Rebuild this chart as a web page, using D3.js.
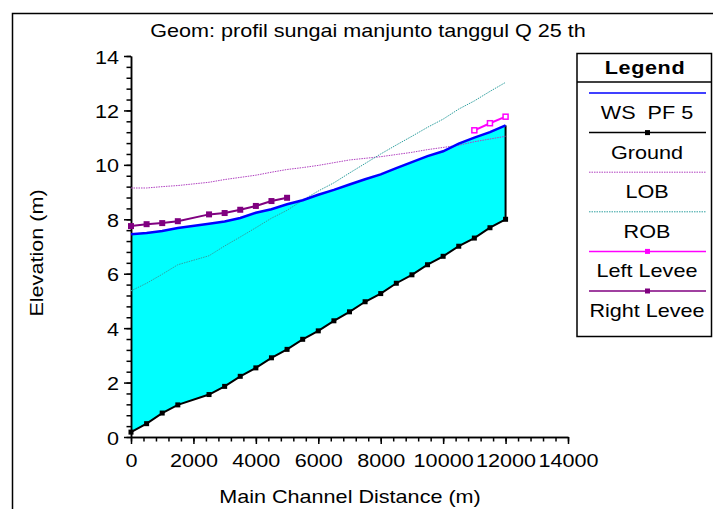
<!DOCTYPE html>
<html>
<head>
    <title>Profil</title>
    <script src="https://cdn.jsdelivr.net/npm/d3@7"></script>
    <style>
        body { margin: 0; background: #fff; }
        text { font-family: "Liberation Sans", Arial, sans-serif; }
    </style>
</head>
<body>
    <svg width="713" height="509" id="mainsvg"></svg>
    <script>
        const svg = d3.select('svg');
        const FS = 18;
        const SX = 1.2; // glyphs in the picture are drawn wide

        // data
        const dist = [0, 500, 1000, 1500, 2500, 3000, 3500, 4000, 4500, 5000, 5500, 6000,
            6500, 7000, 7500, 8000, 8500, 9000, 9500, 10000, 10500, 11000, 11500, 12000];
        const ground = [0.18, 0.49, 0.88, 1.18, 1.56, 1.86, 2.23, 2.54, 2.91, 3.22, 3.59, 3.90,
            4.27, 4.60, 4.97, 5.27, 5.65, 5.96, 6.33, 6.64, 7.01, 7.31, 7.69, 8.00];
        const wsPF5 = [7.45, 7.50, 7.57, 7.68, 7.84, 7.92, 8.05, 8.24, 8.37, 8.55, 8.70, 8.90,
            9.08, 9.28, 9.47, 9.65, 9.88, 10.10, 10.32, 10.50, 10.78, 11.00, 11.20, 11.45];
        const lob = [9.15, 9.15, 9.20, 9.24, 9.36, 9.46, 9.54, 9.62, 9.73, 9.83, 9.90, 9.98,
            10.08, 10.18, 10.24, 10.30, 10.38, 10.46, 10.56, 10.64, 10.72, 10.85, 10.95, 11.05];
        const rob = [5.37, 5.65, 5.98, 6.33, 6.66, 7.02, 7.35, 7.69, 8.04, 8.33, 8.70, 9.04,
            9.34, 9.70, 10.05, 10.40, 10.73, 11.05, 11.38, 11.68, 12.05, 12.35, 12.70, 13.03];
        const leftLeveeX = [11000, 11500, 12000];
        const leftLevee = [11.27, 11.53, 11.77];
        const rightLeveeX = [0, 500, 1000, 1500, 2500, 3000, 3500, 4000, 4500, 5000];
        const rightLevee = [7.75, 7.82, 7.86, 7.93, 8.18, 8.23, 8.35, 8.49, 8.67, 8.79];
        const xTicks = [0, 2000, 4000, 6000, 8000, 10000, 12000, 14000];
        const yTicks = [0, 2, 4, 6, 8, 10, 12, 14];
        const legendNames = ['WS  PF 5', 'Ground', 'LOB', 'ROB', 'Left Levee', 'Right Levee'];

        const x = d3.scaleLinear().domain([0, 14000]).range([131, 568]);
        const y = d3.scaleLinear().domain([0, 14]).range([437, 56]);

        const pts = (xs, ys) => xs.map((d, i) => ({ x: d, y: ys[i] }));
        const line = d3.line().x(d => x(d.x)).y(d => y(d.y));

        // wide text helper
        const label = (parent, tx, ty, str, rot) => parent.append('text')
            .attr('transform', `translate(${tx},${ty})` + (rot ? ` rotate(${rot})` : '') + ` scale(${SX},1)`)
            .attr('text-anchor', 'middle').attr('font-size', FS).attr('fill', 'black')
            .style('white-space', 'pre').text(str);

        // outer frame
        svg.append('path').attr('d', 'M 12.5 509 V 13.5 H 713')
            .attr('fill', 'none').attr('stroke', 'black').attr('stroke-width', 1.5);

        label(svg, 368, 37, 'Geom: profil sungai manjunto tanggul Q 25 th');

        // water area
        const water = dist.map((d, i) => ({ x: d, g: ground[i], w: wsPF5[i] }));
        svg.append('path').datum(water)
            .attr('d', d3.area().x(d => x(d.x)).y0(d => y(d.g)).y1(d => y(d.w)))
            .attr('fill', '#00ffff');
        svg.append('line')
            .attr('x1', x(12000)).attr('x2', x(12000))
            .attr('y1', y(ground[ground.length - 1])).attr('y2', y(wsPF5[wsPF5.length - 1]))
            .attr('stroke', 'black').attr('stroke-width', 2);

        // axes
        const gx = svg.append('g').attr('transform', `translate(0,${y(0)})`);
        gx.call(d3.axisBottom(x).tickValues(d3.range(0, 14001, 400)).tickSize(4.5).tickFormat('').tickSizeOuter(0));
        gx.call(g => g.append('g').call(d3.axisBottom(x).tickValues(xTicks).tickSize(7).tickSizeOuter(0)
            .tickFormat(d => d)));
        const gy = svg.append('g').attr('transform', `translate(${x(0)},0)`);
        gy.call(d3.axisLeft(y).tickValues(d3.range(0, 14.01, 0.4)).tickSize(4.5).tickFormat('').tickSizeOuter(0));
        gy.call(g => g.append('g').call(d3.axisLeft(y).tickValues(yTicks).tickSize(7).tickSizeOuter(0)
            .tickFormat(d => d)));
        svg.selectAll('.domain').attr('stroke', 'black').attr('stroke-width', 1.5);
        svg.selectAll('.tick line').attr('stroke', 'black').attr('stroke-width', 1.5);
        svg.selectAll('.tick text').attr('font-size', FS).attr('fill', 'black')
            .attr('font-family', '"Liberation Sans", Arial, sans-serif');
        gx.selectAll('.tick text').attr('y', 0).attr('dy', 0)
            .attr('transform', `translate(0,30) scale(${SX},1)`);
        gy.selectAll('.tick text').attr('x', 0).attr('dy', 0)
            .attr('transform', `translate(-12,7) scale(${SX},1)`);

        label(svg, 350, 503, 'Main Channel Distance (m)');
        label(svg, 43, 253, 'Elevation (m)', -90);

        // lines
        svg.append('path').datum(pts(dist, lob)).attr('d', line).attr('fill', 'none')
            .attr('stroke', '#b040c0').attr('stroke-width', 1).attr('stroke-dasharray', '1.5,1');
        svg.append('path').datum(pts(dist, rob)).attr('d', line).attr('fill', 'none')
            .attr('stroke', '#30a0a0').attr('stroke-width', 1).attr('stroke-dasharray', '1.5,1');
        svg.append('path').datum(pts(dist, wsPF5)).attr('d', line).attr('fill', 'none')
            .attr('stroke', '#0000ff').attr('stroke-width', 2.5);
        svg.append('path').datum(pts(dist, ground)).attr('d', line).attr('fill', 'none')
            .attr('stroke', 'black').attr('stroke-width', 2);
        svg.selectAll('.gPt').data(pts(dist, ground)).join('rect').attr('class', 'gPt')
            .attr('x', d => x(d.x) - 2.5).attr('y', d => y(d.y) - 2.5).attr('width', 5).attr('height', 5)
            .attr('fill', 'black');
        svg.append('path').datum(pts(rightLeveeX, rightLevee)).attr('d', line).attr('fill', 'none')
            .attr('stroke', '#800080').attr('stroke-width', 2);
        svg.selectAll('.rPt').data(pts(rightLeveeX, rightLevee)).join('rect').attr('class', 'rPt')
            .attr('x', d => x(d.x) - 3).attr('y', d => y(d.y) - 3).attr('width', 6).attr('height', 6)
            .attr('fill', '#800080');
        svg.append('path').datum(pts(leftLeveeX, leftLevee)).attr('d', line).attr('fill', 'none')
            .attr('stroke', '#ff00ff').attr('stroke-width', 2);
        svg.selectAll('.lPt').data(pts(leftLeveeX, leftLevee)).join('rect').attr('class', 'lPt')
            .attr('x', d => x(d.x) - 2.5).attr('y', d => y(d.y) - 2.5).attr('width', 5).attr('height', 5)
            .attr('fill', 'white').attr('stroke', '#ff00ff').attr('stroke-width', 1.5);

        // legend
        const lg = svg.append('g');
        lg.append('rect').attr('x', 577).attr('y', 53.5).attr('width', 134.5).attr('height', 283)
            .attr('fill', 'white').attr('stroke', 'black').attr('stroke-width', 1.5);
        lg.append('line').attr('x1', 577).attr('x2', 711.5).attr('y1', 82).attr('y2', 82)
            .attr('stroke', 'black').attr('stroke-width', 1.5);
        label(lg, 645, 74, 'Legend').attr('font-weight', 'bold').attr('letter-spacing', 0.5);
        const styles = [
            { c: '#0000ff', w: 1.5 },
            { c: 'black', w: 1.5, m: 'fill' },
            { c: '#b040c0', w: 1, dash: '1.5,1' },
            { c: '#30a0a0', w: 1, dash: '1.5,1' },
            { c: '#ff00ff', w: 1.5, m: 'fill' },
            { c: '#800080', w: 1.5, m: 'fill' }
        ];
        const rowY = d3.scaleLinear().domain([0, 5]).range([93, 291]);
        legendNames.forEach((name, i) => {
            const s = styles[i];
            const ly = rowY(i);
            lg.append('line').attr('x1', 589).attr('x2', 706).attr('y1', ly).attr('y2', ly)
                .attr('stroke', s.c).attr('stroke-width', s.w).attr('stroke-dasharray', s.dash || null);
            if (s.m) {
                lg.append('rect').attr('x', 645).attr('y', ly - 2.5).attr('width', 5).attr('height', 5)
                    .attr('fill', s.c);
            }
            label(lg, 647, ly + 26, name);
        });
    </script>
</body>
</html>
